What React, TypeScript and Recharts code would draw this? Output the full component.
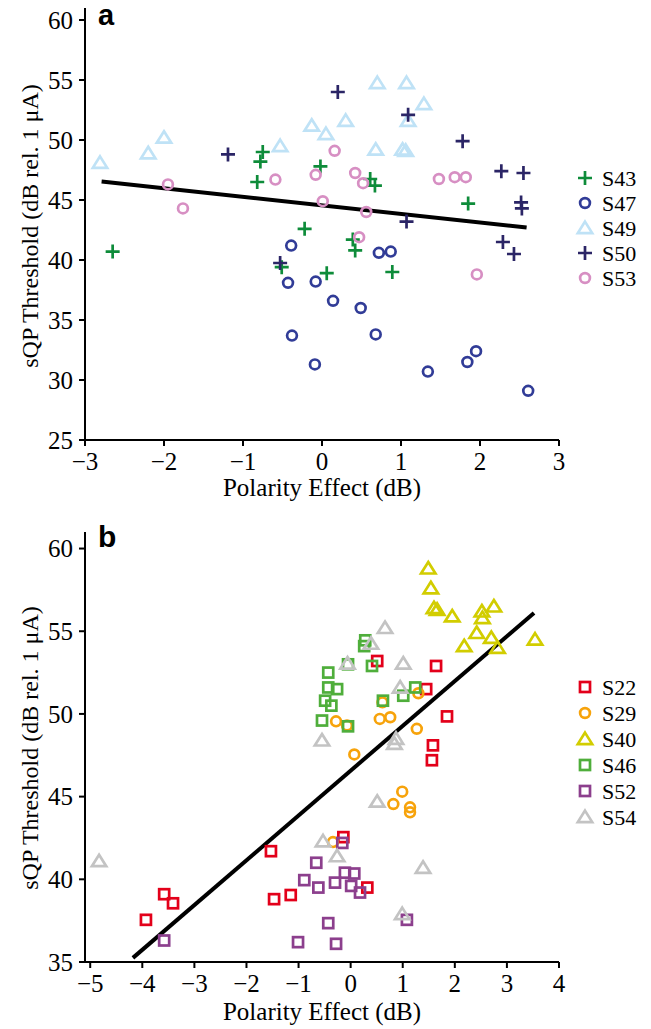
import React from 'react';
import { ScatterChart, Scatter, XAxis, YAxis, ReferenceLine, Legend } from 'recharts';

// ---------- Panel a data ----------
const s43 = [
  { x: -2.65, y: 40.7 }, { x: -0.82, y: 46.5 }, { x: -0.78, y: 48.2 }, { x: -0.75, y: 49.0 },
  { x: -0.51, y: 39.4 }, { x: -0.22, y: 42.6 }, { x: -0.02, y: 47.8 }, { x: 0.06, y: 38.9 },
  { x: 0.39, y: 41.7 }, { x: 0.42, y: 40.8 }, { x: 0.61, y: 46.75 }, { x: 0.67, y: 46.2 },
  { x: 0.89, y: 39.0 }, { x: 1.85, y: 44.7 },
];
const s47 = [
  { x: -0.39, y: 41.2 }, { x: -0.43, y: 38.1 }, { x: -0.38, y: 33.7 }, { x: -0.09, y: 31.3 },
  { x: -0.08, y: 38.2 }, { x: 0.14, y: 36.6 }, { x: 0.49, y: 36.0 }, { x: 0.68, y: 33.8 },
  { x: 0.72, y: 40.6 }, { x: 0.87, y: 40.7 }, { x: 1.34, y: 30.7 }, { x: 1.84, y: 31.5 },
  { x: 1.95, y: 32.4 }, { x: 2.61, y: 29.1 },
];
const s49 = [
  { x: -2.81, y: 48.1 }, { x: -2.2, y: 48.9 }, { x: -2.0, y: 50.2 }, { x: -0.53, y: 49.5 },
  { x: -0.13, y: 51.2 }, { x: 0.05, y: 50.5 }, { x: 0.3, y: 51.6 }, { x: 0.68, y: 49.2 },
  { x: 0.7, y: 54.75 }, { x: 1.02, y: 49.2 }, { x: 1.06, y: 49.1 }, { x: 1.07, y: 54.75 },
  { x: 1.09, y: 51.6 }, { x: 1.29, y: 53.0 },
];
const s50 = [
  { x: -1.19, y: 48.8 }, { x: -0.53, y: 39.75 }, { x: 0.2, y: 54.0 }, { x: 1.07, y: 43.2 },
  { x: 1.09, y: 52.1 }, { x: 1.78, y: 49.9 }, { x: 2.27, y: 47.4 }, { x: 2.29, y: 41.5 },
  { x: 2.43, y: 40.5 }, { x: 2.52, y: 44.8 }, { x: 2.53, y: 44.3 }, { x: 2.55, y: 47.25 },
];
const s53 = [
  { x: -1.95, y: 46.3 }, { x: -1.76, y: 44.3 }, { x: -0.59, y: 46.7 }, { x: -0.08, y: 47.1 },
  { x: 0.01, y: 44.9 }, { x: 0.16, y: 49.1 }, { x: 0.42, y: 47.25 }, { x: 0.47, y: 41.9 },
  { x: 0.52, y: 46.4 }, { x: 0.56, y: 44.0 }, { x: 1.48, y: 46.75 }, { x: 1.68, y: 46.9 },
  { x: 1.82, y: 46.9 }, { x: 1.96, y: 38.8 },
];
const fitA = [{ x: -2.79, y: 46.55 }, { x: 2.59, y: 42.7 }];
const xTicksA = [-3, -2, -1, 0, 1, 2, 3];
const yTicksA = [25, 30, 35, 40, 45, 50, 55, 60];

// ---------- Panel b data ----------
const s22 = [
  { x: -3.93, y: 37.55 }, { x: -3.58, y: 39.1 }, { x: -3.41, y: 38.55 }, { x: -1.53, y: 41.7 },
  { x: -1.47, y: 38.8 }, { x: -1.15, y: 39.05 }, { x: -0.14, y: 42.55 }, { x: 0.32, y: 39.5 },
  { x: 0.51, y: 53.2 }, { x: 1.45, y: 51.5 }, { x: 1.56, y: 47.2 }, { x: 1.58, y: 48.1 },
  { x: 1.64, y: 52.9 }, { x: 1.85, y: 49.85 },
];
const s29 = [
  { x: -0.34, y: 42.25 }, { x: -0.28, y: 49.55 }, { x: -0.07, y: 49.3 }, { x: 0.07, y: 47.55 },
  { x: 0.56, y: 49.7 }, { x: 0.61, y: 50.7 }, { x: 0.76, y: 49.8 }, { x: 0.82, y: 44.55 },
  { x: 0.99, y: 45.3 }, { x: 1.14, y: 44.35 }, { x: 1.14, y: 44.05 }, { x: 1.27, y: 49.1 },
  { x: 1.3, y: 51.25 },
];
const s40 = [
  { x: 1.49, y: 58.8 }, { x: 1.54, y: 57.6 }, { x: 1.6, y: 56.4 }, { x: 1.66, y: 56.3 },
  { x: 1.95, y: 55.9 }, { x: 2.18, y: 54.1 }, { x: 2.42, y: 54.9 }, { x: 2.52, y: 56.2 },
  { x: 2.53, y: 55.8 }, { x: 2.7, y: 54.6 }, { x: 2.75, y: 56.5 }, { x: 2.82, y: 54.0 },
  { x: 3.54, y: 54.5 },
];
const s46 = [
  { x: 0.28, y: 54.45 }, { x: 0.26, y: 54.1 }, { x: -0.05, y: 53.0 }, { x: 0.41, y: 52.9 },
  { x: -0.43, y: 52.5 }, { x: -0.43, y: 51.6 }, { x: -0.26, y: 51.5 }, { x: -0.49, y: 50.8 },
  { x: -0.37, y: 50.5 }, { x: -0.55, y: 49.6 }, { x: -0.05, y: 49.25 }, { x: 0.62, y: 50.8 },
  { x: 1.01, y: 51.1 }, { x: 1.24, y: 51.6 },
];
const s52 = [
  { x: -3.58, y: 36.3 }, { x: -1.01, y: 36.2 }, { x: -0.43, y: 37.35 }, { x: -0.28, y: 36.1 },
  { x: -0.89, y: 39.95 }, { x: -0.66, y: 41.0 }, { x: -0.62, y: 39.5 }, { x: -0.3, y: 39.8 },
  { x: -0.16, y: 42.2 }, { x: -0.11, y: 40.4 }, { x: 0.07, y: 40.35 }, { x: 0.01, y: 39.6 },
  { x: 0.18, y: 39.2 }, { x: 1.08, y: 37.55 },
];
const s54 = [
  { x: -4.83, y: 41.1 }, { x: -0.55, y: 48.4 }, { x: -0.53, y: 42.3 }, { x: -0.26, y: 41.4 },
  { x: -0.06, y: 53.05 }, { x: 0.39, y: 54.25 }, { x: 0.51, y: 44.7 }, { x: 0.66, y: 55.2 },
  { x: 0.84, y: 48.2 }, { x: 0.87, y: 48.5 }, { x: 0.95, y: 51.6 }, { x: 0.99, y: 37.9 },
  { x: 1.01, y: 53.05 }, { x: 1.39, y: 40.7 },
];
const fitB = [{ x: -4.18, y: 35.25 }, { x: 3.52, y: 56.1 }];
const xTicksB = [-5, -4, -3, -2, -1, 0, 1, 2, 3, 4];
const yTicksB = [35, 40, 45, 50, 55, 60];

const seriesA = [
  { name: 'S43', color: '#0e8c3a', kind: 'plus', data: s43 },
  { name: 'S47', color: '#313c97', kind: 'circle', data: s47 },
  { name: 'S49', color: '#bfe2f6', kind: 'triangle', data: s49 },
  { name: 'S50', color: '#2b2566', kind: 'plus', data: s50 },
  { name: 'S53', color: '#d78fc3', kind: 'circle', data: s53 },
];
const seriesB = [
  { name: 'S22', color: '#e3001a', kind: 'square', data: s22 },
  { name: 'S29', color: '#f7a30b', kind: 'circle', data: s29 },
  { name: 'S40', color: '#d2cd00', kind: 'triangle', data: s40 },
  { name: 'S46', color: '#4fae3b', kind: 'square', data: s46 },
  { name: 'S52', color: '#8c3f8d', kind: 'square', data: s52 },
  { name: 'S54', color: '#c3c3c3', kind: 'triangle', data: s54 },
];

const SERIF = '"Liberation Serif", "Times New Roman", Times, serif';
const SANS = '"Liberation Sans", Arial, Helvetica, sans-serif';

function Marker({ kind, color, x, y }: { kind: string; color: string; x: number; y: number }) {
  const sw = 2.7;
  if (kind === 'plus') {
    return (
      <path d={`M${x - 7},${y}H${x + 7}M${x},${y - 7}V${y + 7}`} stroke={color} strokeWidth={sw} fill="none" />
    );
  }
  if (kind === 'circle') {
    return <circle cx={x} cy={y} r={4.9} stroke={color} strokeWidth={sw} fill="none" />;
  }
  if (kind === 'square') {
    return <rect x={x - 5} y={y - 5} width={10} height={10} stroke={color} strokeWidth={sw} fill="none" />;
  }
  return (
    <path
      d={`M${x},${y - 6.4}L${x + 7.2},${y + 5.1}L${x - 7.2},${y + 5.1}Z`}
      stroke={color}
      strokeWidth={sw}
      fill="none"
      strokeLinejoin="miter"
    />
  );
}

const makeShape = (kind: string, color: string) => (props: any) => {
  const { cx, cy } = props;
  if (cx == null || cy == null) return <g />;
  return <Marker kind={kind} color={color} x={cx} y={cy} />;
};

const fmt = (v: number) => String(v).replace('-', '\u2212');

const axisLine = { stroke: '#000', strokeWidth: 2 };
const tickStyle = { fill: '#000', fontSize: 25, fontFamily: SERIF, style: { fontFamily: SERIF } };

function LegendBox({ series, step, first }: { series: any[]; step: number; first: number }) {
  return (
    <svg width={80} height={first + step * series.length}>
      {series.map((s, i) => {
        const y = first + i * step;
        return (
          <g key={s.name}>
            <Marker kind={s.kind} color={s.color} x={15} y={y} />
            <text
              x={32}
              y={y}
              dy="0.35em"
              fontSize={22}
              fontFamily={SERIF}
              style={{ fontFamily: SERIF }}
              fill="#000"
            >
              {s.name}
            </text>
          </g>
        );
      })}
    </svg>
  );
}

function Panel({
  series, fit, xDomain, xTicks, yDomain, yTicks, height, top, plotH, legendTop, legendStep,
}: any) {
  return (
    <ScatterChart
      width={651}
      height={height}
      margin={{ top, right: 92, bottom: 0, left: 0 }}
    >
      <XAxis
        type="number"
        dataKey="x"
        domain={xDomain}
        ticks={xTicks}
        interval={0}
        allowDataOverflow
        tickFormatter={fmt}
        axisLine={axisLine}
        tickLine={axisLine}
        tick={tickStyle}
        tickSize={6}
        tickMargin={6}
        height={height - top - plotH}
      />
      <YAxis
        type="number"
        dataKey="y"
        domain={yDomain}
        ticks={yTicks}
        interval={0}
        allowDataOverflow
        axisLine={axisLine}
        tickLine={axisLine}
        tick={tickStyle}
        tickSize={6}
        tickMargin={6}
        width={85}
      />
      <Legend
        layout="vertical"
        align="center"
        verticalAlign="middle"
        wrapperStyle={{ left: 570, top: legendTop, width: 80, right: 'auto', bottom: 'auto' }}
        content={() => <LegendBox series={series} step={legendStep} first={18} />}
      />
      {series.map((s: any) => (
        <Scatter
          key={s.name}
          name={s.name}
          data={s.data}
          fill={s.color}
          shape={makeShape(s.kind, s.color)}
          isAnimationActive={false}
        />
      ))}
      <ReferenceLine
        segment={fit}
        stroke="#000"
        strokeWidth={4}
        ifOverflow="visible"
      />
    </ScatterChart>
  );
}

export default function App() {
  return (
    <div style={{ position: 'absolute', left: 0, top: 0, width: 651, height: 1029, background: '#fff' }}>
      <div style={{ position: 'absolute', left: 0, top: 0 }}>
        <Panel
          series={seriesA}
          fit={fitA}
          xDomain={[-3, 3]}
          xTicks={xTicksA}
          yDomain={[25, 61]}
          yTicks={yTicksA}
          height={510}
          top={8}
          plotH={432}
          legendTop={160}
          legendStep={25}
        />
      </div>
      <div style={{ position: 'absolute', left: 0, top: 510 }}>
        <Panel
          series={seriesB}
          fit={fitB}
          xDomain={[-5.1, 4]}
          xTicks={xTicksB}
          yDomain={[35, 61]}
          yTicks={yTicksB}
          height={519}
          top={22}
          plotH={430}
          legendTop={159}
          legendStep={26}
        />
      </div>
      <svg
        width={651}
        height={1029}
        style={{ position: 'absolute', left: 0, top: 0, pointerEvents: 'none' }}
      >
        <text x={98} y={25} fontSize={29} fontWeight="bold" fontFamily={SANS} fill="#000">a</text>
        <text x={98} y={547} fontSize={30} fontWeight="bold" fontFamily={SANS} fill="#000">b</text>
        <text x={322} y={496} textAnchor="middle" fontSize={25} fontFamily={SERIF} fill="#000">
          Polarity Effect (dB)
        </text>
        <text x={322} y={1020} textAnchor="middle" fontSize={25} fontFamily={SERIF} fill="#000">
          Polarity Effect (dB)
        </text>
        <text
          x={38}
          y={226}
          transform="rotate(-90 38 226)"
          textAnchor="middle"
          fontSize={24}
          fontFamily={SERIF}
          fill="#000"
        >
          sQP Threshold (dB rel. 1 μA)
        </text>
        <text
          x={38}
          y={748}
          transform="rotate(-90 38 748)"
          textAnchor="middle"
          fontSize={24}
          fontFamily={SERIF}
          fill="#000"
        >
          sQP Threshold (dB rel. 1 μA)
        </text>
      </svg>
    </div>
  );
}
